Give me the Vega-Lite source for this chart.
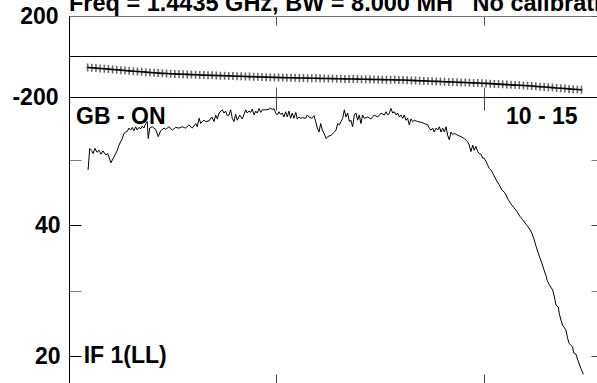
{
  "$schema": "https://vega.github.io/schema/vega-lite/v6.json",
  "autosize": {"type": "pad"},
  "padding": {"left": 11, "top": -9, "right": 0, "bottom": 0},
  "background": "white",
  "title": {
    "text": "Freq = 1.4435 GHz, BW = 8.000 MH\u00a0\u00a0\u00a0No calibration",
    "anchor": "start",
    "frame": "group",
    "font": "Liberation Sans",
    "fontSize": 23.5,
    "fontWeight": "bold",
    "color": "black",
    "baseline": "alphabetic",
    "offset": -29
  },
  "config": {
    "view": {"stroke": null},
    "concat": {"spacing": 0},
    "axis": {
      "grid": false,
      "title": null,
      "labelFont": "Liberation Sans",
      "labelFontSize": 23,
      "labelFontWeight": "bold",
      "labelColor": "black",
      "domainColor": "black",
      "domainWidth": 1,
      "tickWidth": 1,
      "labelOverlap": false,
      "labelFlush": false
    }
  },
  "datasets": {
    "zeroline": [{"ph": 0}],
    "phase": [
      {"ch":9,"ph":-54.0},{"ch":11,"ph":-55.6},{"ch":13,"ph":-57.3},{"ch":15,"ph":-58.9},
      {"ch":17,"ph":-60.6},{"ch":19,"ph":-62.3},{"ch":21,"ph":-64.0},{"ch":23,"ph":-65.7},{"ch":25,"ph":-67.4},{"ch":27,"ph":-69.1},{"ch":29,"ph":-70.8},
      {"ch":31,"ph":-72.5},{"ch":33,"ph":-74.1},{"ch":35,"ph":-75.6},{"ch":37,"ph":-77.2},{"ch":39,"ph":-78.8},{"ch":41,"ph":-80.4},{"ch":43,"ph":-82.0},
      {"ch":45,"ph":-83.3},{"ch":47,"ph":-84.2},{"ch":49,"ph":-85.0},{"ch":51,"ph":-85.9},{"ch":53,"ph":-86.8},{"ch":55,"ph":-87.6},{"ch":57,"ph":-88.5},{"ch":59,"ph":-89.3},{"ch":61,"ph":-90.2},{"ch":63,"ph":-91.0},
      {"ch":65,"ph":-91.8},{"ch":67,"ph":-92.5},{"ch":69,"ph":-93.1},{"ch":71,"ph":-93.8},{"ch":73,"ph":-94.5},{"ch":75,"ph":-95.2},{"ch":77,"ph":-95.9},{"ch":79,"ph":-96.5},{"ch":81,"ph":-97.2},{"ch":83,"ph":-97.9},{"ch":85,"ph":-98.6},{"ch":87,"ph":-99.3},{"ch":89,"ph":-99.9},{"ch":91,"ph":-100.6},{"ch":93,"ph":-101.3},{"ch":95,"ph":-102.0},{"ch":97,"ph":-102.7},{"ch":99,"ph":-103.3},
      {"ch":101,"ph":-103.8},{"ch":103,"ph":-104.3},{"ch":105,"ph":-104.7},{"ch":107,"ph":-105.1},{"ch":109,"ph":-105.5},{"ch":111,"ph":-105.9},{"ch":113,"ph":-106.3},{"ch":115,"ph":-106.8},{"ch":117,"ph":-107.2},{"ch":119,"ph":-107.6},{"ch":121,"ph":-108.0},{"ch":123,"ph":-108.4},{"ch":125,"ph":-108.8},{"ch":127,"ph":-109.2},{"ch":129,"ph":-109.7},{"ch":131,"ph":-110.1},{"ch":133,"ph":-110.5},{"ch":135,"ph":-110.9},
      {"ch":137,"ph":-111.3},{"ch":139,"ph":-111.7},{"ch":141,"ph":-112.1},{"ch":143,"ph":-112.5},{"ch":145,"ph":-112.9},{"ch":147,"ph":-113.4},{"ch":149,"ph":-113.8},{"ch":151,"ph":-114.2},{"ch":153,"ph":-114.6},{"ch":155,"ph":-115.0},{"ch":157,"ph":-115.4},{"ch":159,"ph":-115.8},
      {"ch":161,"ph":-116.4},{"ch":163,"ph":-117.2},{"ch":165,"ph":-118.0},{"ch":167,"ph":-118.9},{"ch":169,"ph":-119.7},{"ch":171,"ph":-120.5},{"ch":173,"ph":-121.3},{"ch":175,"ph":-122.1},{"ch":177,"ph":-123.0},{"ch":179,"ph":-123.8},{"ch":181,"ph":-124.6},{"ch":183,"ph":-125.4},{"ch":185,"ph":-126.2},{"ch":187,"ph":-127.0},{"ch":189,"ph":-127.8},{"ch":191,"ph":-128.6},{"ch":193,"ph":-129.4},{"ch":195,"ph":-130.3},{"ch":197,"ph":-131.1},{"ch":199,"ph":-131.9},
      {"ch":201,"ph":-132.9},{"ch":203,"ph":-134.1},{"ch":205,"ph":-135.3},{"ch":207,"ph":-136.4},{"ch":209,"ph":-137.6},{"ch":211,"ph":-138.8},{"ch":213,"ph":-140.0},{"ch":215,"ph":-141.2},{"ch":217,"ph":-142.3},{"ch":219,"ph":-143.5},{"ch":221,"ph":-144.7},
      {"ch":223,"ph":-145.9},{"ch":225,"ph":-147.5},{"ch":227,"ph":-149.0},{"ch":229,"ph":-150.6},{"ch":231,"ph":-152.1},{"ch":233,"ph":-153.7},{"ch":235,"ph":-155.2},{"ch":237,"ph":-156.8},{"ch":239,"ph":-158.3},{"ch":241,"ph":-159.9},{"ch":243,"ph":-161.4},{"ch":245,"ph":-163.0},{"ch":247,"ph":-164.5}
    ],
    "spectrum": [
      {"ch":9.2,"amp":48.5},{"ch":10.0,"amp":51.8},{"ch":10.9,"amp":51.5},{"ch":11.6,"amp":51.0},{"ch":12.5,"amp":51.8},{"ch":13.5,"amp":51.2},{"ch":14.5,"amp":51.5},{"ch":15.4,"amp":50.9},{"ch":16.4,"amp":51.4},{"ch":17.7,"amp":50.8},
      {"ch":18.7,"amp":51.0},{"ch":20.2,"amp":49.6},{"ch":21.7,"amp":50.5},{"ch":23.3,"amp":51.5},{"ch":24.1,"amp":52.3},{"ch":24.9,"amp":52.8},{"ch":25.7,"amp":53.3},{"ch":26.5,"amp":54.1},{"ch":27.3,"amp":54.3},{"ch":28.1,"amp":54.4},
      {"ch":28.9,"amp":54.9},{"ch":29.7,"amp":54.6},{"ch":30.5,"amp":55.0},{"ch":31.3,"amp":54.5},{"ch":32.1,"amp":55.1},{"ch":32.9,"amp":54.6},{"ch":33.7,"amp":55.0},{"ch":34.6,"amp":54.8},{"ch":35.3,"amp":55.2},{"ch":36.1,"amp":54.9},
      {"ch":37.0,"amp":55.6},{"ch":37.7,"amp":55.9},{"ch":38.2,"amp":53.3},{"ch":38.9,"amp":54.9},{"ch":40.1,"amp":55.1},{"ch":41.8,"amp":54.7},{"ch":43.0,"amp":53.6},{"ch":44.2,"amp":54.5},{"ch":45.8,"amp":54.9},{"ch":46.6,"amp":54.7},
      {"ch":48.2,"amp":55.1},{"ch":49.8,"amp":54.6},{"ch":51.4,"amp":55.0},{"ch":53.0,"amp":54.9},{"ch":54.6,"amp":55.1},{"ch":56.2,"amp":54.9},{"ch":57.8,"amp":55.4},{"ch":59.4,"amp":54.9},{"ch":61.1,"amp":55.6},{"ch":61.8,"amp":55.1},
      {"ch":62.7,"amp":56.4},{"ch":63.5,"amp":55.6},{"ch":64.2,"amp":55.9},{"ch":65.1,"amp":56.1},{"ch":65.9,"amp":55.9},{"ch":67.5,"amp":56.0},{"ch":68.8,"amp":56.6},{"ch":69.9,"amp":55.9},{"ch":70.7,"amp":56.9},{"ch":71.5,"amp":56.3},
      {"ch":72.3,"amp":57.2},{"ch":73.9,"amp":57.7},{"ch":74.7,"amp":57.2},{"ch":75.5,"amp":57.5},{"ch":76.3,"amp":56.8},{"ch":77.1,"amp":56.9},{"ch":77.9,"amp":57.7},{"ch":78.7,"amp":56.4},{"ch":79.5,"amp":55.9},{"ch":80.3,"amp":57.0},
      {"ch":81.1,"amp":56.1},{"ch":82.3,"amp":56.9},{"ch":83.5,"amp":56.3},{"ch":85.2,"amp":57.7},{"ch":85.9,"amp":57.2},{"ch":86.7,"amp":57.5},{"ch":87.6,"amp":57.3},{"ch":88.3,"amp":57.8},{"ch":89.2,"amp":56.9},{"ch":90.0,"amp":57.5},
      {"ch":90.7,"amp":57.2},{"ch":91.6,"amp":57.9},{"ch":92.4,"amp":57.3},{"ch":93.2,"amp":57.7},{"ch":94.8,"amp":57.7},{"ch":96.4,"amp":57.8},{"ch":97.2,"amp":58.0},{"ch":98.0,"amp":57.7},{"ch":98.8,"amp":57.9},{"ch":99.6,"amp":57.2},
      {"ch":100.4,"amp":56.9},{"ch":101.2,"amp":57.4},{"ch":102.0,"amp":57.0},{"ch":102.8,"amp":57.2},{"ch":103.6,"amp":56.6},{"ch":104.4,"amp":57.4},{"ch":105.2,"amp":56.6},{"ch":106.0,"amp":57.5},{"ch":106.8,"amp":56.4},{"ch":107.6,"amp":57.2},
      {"ch":108.4,"amp":56.4},{"ch":109.3,"amp":57.3},{"ch":110.0,"amp":56.3},{"ch":110.8,"amp":56.6},{"ch":111.7,"amp":56.4},{"ch":112.4,"amp":56.5},{"ch":114.1,"amp":56.4},{"ch":114.8,"amp":56.9},{"ch":115.7,"amp":56.6},{"ch":117.0,"amp":56.4},
      {"ch":118.1,"amp":56.8},{"ch":118.9,"amp":55.9},{"ch":119.7,"amp":54.9},{"ch":120.5,"amp":54.3},{"ch":121.3,"amp":55.6},{"ch":122.1,"amp":54.6},{"ch":122.9,"amp":54.1},{"ch":123.9,"amp":53.3},{"ch":124.7,"amp":53.6},{"ch":126.3,"amp":53.8},
      {"ch":127.9,"amp":54.3},{"ch":128.7,"amp":54.6},{"ch":129.5,"amp":55.6},{"ch":130.3,"amp":55.4},{"ch":131.1,"amp":55.9},{"ch":131.9,"amp":56.4},{"ch":132.7,"amp":57.7},{"ch":133.5,"amp":56.6},{"ch":134.3,"amp":57.2},{"ch":135.1,"amp":55.9},
      {"ch":135.9,"amp":56.1},{"ch":136.7,"amp":55.1},{"ch":137.5,"amp":56.9},{"ch":138.3,"amp":57.2},{"ch":139.1,"amp":56.1},{"ch":139.9,"amp":56.9},{"ch":140.7,"amp":55.6},{"ch":141.5,"amp":56.9},{"ch":142.3,"amp":56.4},{"ch":144.0,"amp":56.6},
      {"ch":145.5,"amp":56.3},{"ch":147.1,"amp":56.9},{"ch":148.8,"amp":56.6},{"ch":150.4,"amp":57.2},{"ch":152.0,"amp":56.9},{"ch":152.8,"amp":57.4},{"ch":153.6,"amp":56.9},{"ch":154.4,"amp":57.2},{"ch":155.2,"amp":57.9},{"ch":156.0,"amp":57.2},
      {"ch":156.8,"amp":57.4},{"ch":157.6,"amp":56.9},{"ch":158.4,"amp":57.2},{"ch":159.2,"amp":56.6},{"ch":160.0,"amp":56.9},{"ch":160.8,"amp":56.4},{"ch":161.6,"amp":56.9},{"ch":162.4,"amp":56.1},{"ch":163.2,"amp":56.4},{"ch":164.0,"amp":55.4},
      {"ch":164.8,"amp":56.3},{"ch":165.6,"amp":55.9},{"ch":166.4,"amp":56.1},{"ch":168.0,"amp":55.9},{"ch":169.6,"amp":55.8},{"ch":171.2,"amp":55.6},{"ch":172.9,"amp":55.4},{"ch":173.6,"amp":54.9},{"ch":174.5,"amp":54.6},{"ch":175.3,"amp":54.9},
      {"ch":176.0,"amp":54.3},{"ch":176.9,"amp":54.9},{"ch":177.7,"amp":54.6},{"ch":178.5,"amp":55.1},{"ch":179.3,"amp":54.3},{"ch":180.1,"amp":54.9},{"ch":180.9,"amp":54.3},{"ch":181.7,"amp":55.1},{"ch":182.5,"amp":53.8},{"ch":183.3,"amp":53.1},
      {"ch":184.1,"amp":54.3},{"ch":184.9,"amp":53.9},{"ch":185.7,"amp":54.1},{"ch":187.3,"amp":53.8},{"ch":188.9,"amp":53.6},{"ch":190.5,"amp":53.3},{"ch":192.1,"amp":52.8},{"ch":192.9,"amp":52.3},{"ch":193.7,"amp":51.3},{"ch":194.6,"amp":52.3},
      {"ch":195.3,"amp":51.5},{"ch":196.1,"amp":52.1},{"ch":197.0,"amp":51.3},{"ch":197.7,"amp":51.0},{"ch":198.6,"amp":50.9},{"ch":199.4,"amp":50.3},{"ch":200.1,"amp":50.3},{"ch":201.0,"amp":49.8},{"ch":201.8,"amp":49.2},{"ch":202.6,"amp":48.7},
      {"ch":203.4,"amp":48.5},{"ch":204.2,"amp":48.0},{"ch":205.8,"amp":47.0},{"ch":207.2,"amp":46.3},{"ch":208.7,"amp":45.4},{"ch":210.1,"amp":45.0},{"ch":211.6,"amp":44.0},{"ch":213.0,"amp":43.3},{"ch":214.5,"amp":42.7},{"ch":215.9,"amp":42.1},
      {"ch":217.3,"amp":41.4},{"ch":218.8,"amp":40.8},{"ch":220.2,"amp":40.2},{"ch":221.7,"amp":39.6},{"ch":223.1,"amp":38.8},{"ch":224.1,"amp":37.9},{"ch":225.1,"amp":36.8},{"ch":226.0,"amp":35.9},{"ch":227.0,"amp":35.0},{"ch":228.0,"amp":34.1},
      {"ch":228.9,"amp":33.2},{"ch":229.9,"amp":32.3},{"ch":230.4,"amp":31.6},{"ch":231.5,"amp":30.9},{"ch":233.1,"amp":30.1},{"ch":233.9,"amp":29.1},{"ch":234.7,"amp":27.8},{"ch":235.8,"amp":27.5},{"ch":236.3,"amp":26.5},{"ch":237.1,"amp":25.5},
      {"ch":237.9,"amp":24.7},{"ch":239.5,"amp":24.0},{"ch":240.3,"amp":22.7},{"ch":241.1,"amp":21.9},{"ch":242.7,"amp":21.4},{"ch":243.2,"amp":20.5},{"ch":244.3,"amp":20.3},{"ch":245.2,"amp":19.4},{"ch":246.7,"amp":18.1},{"ch":247.9,"amp":17.2}
    ],
    "notes": [
      {"ch":3.4,"amp":55.5,"label":"GB - ON"},
      {"ch":210.6,"amp":55.5,"label":"10 - 15"},
      {"ch":7.1,"amp":18.9,"label":"IF 1(LL)"}
    ]
  },
  "bounds": "flush",
  "spacing": 0,
  "vconcat": [
    {
      "width": 532,
      "height": 81,
      "layer": [
        {
          "data": {"name": "zeroline"},
          "mark": {"type": "rule", "color": "black", "strokeWidth": 1},
          "encoding": {
            "y": {"field": "ph", "type": "quantitative", "scale": {"domain": [-200, 200], "nice": false}, "axis": null}
          }
        },
        {
          "data": {"name": "phase"},
          "mark": {"type": "point", "shape": "M0,-1V1M-0.35,0H0.35", "filled": false, "stroke": "#6a6a6a", "strokeWidth": 1.6, "size": 64, "opacity": 1},
          "encoding": {
            "x": {"field": "ch", "type": "quantitative", "scale": {"domain": [0, 256.4], "nice": false, "zero": false},
                  "axis": {"orient": "bottom", "values": [0, 100, 200], "tickSize": -10, "labels": false, "tickColor": "#555", "domainColor": "black"}},
            "y": {"field": "ph", "type": "quantitative", "scale": {"domain": [-200, 200], "nice": false},
                  "axis": {"orient": "right", "values": [-200, 200], "tickSize": -10, "labels": false, "tickColor": "#555", "domain": false}}
          }
        },
        {
          "data": {"name": "phase"},
          "mark": {"type": "line", "color": "black", "strokeWidth": 1.6},
          "encoding": {
            "x": {"field": "ch", "type": "quantitative", "scale": {"domain": [0, 256.4], "nice": false, "zero": false},
                  "axis": {"orient": "top", "values": [0, 100, 200], "tickSize": -9, "labels": false, "tickColor": "#555", "domainColor": "#777"}},
            "y": {"field": "ph", "type": "quantitative", "scale": {"domain": [-200, 200], "nice": false},
                  "axis": {"orient": "left", "values": [-200, 200], "tickSize": -10, "labelPadding": 21,
                           "labelExpr": "datum.value > 0 ? '200' : '-200'",
                           "tickColor": "#777", "domainColor": "black"}}
          }
        }
      ],
      "resolve": {"axis": {"x": "independent", "y": "independent"}}
    },
    {
      "width": 532,
      "height": 288,
      "layer": [
        {
          "data": {"name": "spectrum"},
          "mark": {"type": "line", "color": "black", "strokeWidth": 1},
          "encoding": {
            "x": {"field": "ch", "type": "quantitative", "scale": {"domain": [0, 256.4], "nice": false, "zero": false},
                  "axis": {"orient": "top", "values": [0, 100, 200], "tickSize": -13, "labels": false, "tickColor": "#444", "domainColor": "black"}},
            "y": {"field": "amp", "type": "quantitative", "scale": {"domain": [15.56, 59.66], "nice": false, "zero": false},
                  "axis": {"orient": "left", "values": [20, 30, 40, 50], "tickSize": -12, "labelPadding": 21,
                           "labelExpr": "datum.value % 20 === 0 ? datum.label : ''",
                           "tickColor": {"condition": {"test": "datum.value % 20 === 0", "value": "black"}, "value": "#808080"},
                           "domainColor": "black"}}
          }
        },
        {
          "data": {"name": "notes"},
          "mark": {"type": "text", "align": "left", "baseline": "alphabetic", "font": "Liberation Sans", "fontSize": 23, "fontWeight": "bold", "color": "black"},
          "encoding": {
            "x": {"field": "ch", "type": "quantitative", "scale": {"domain": [0, 256.4], "nice": false, "zero": false},
                  "axis": {"orient": "bottom", "values": [0, 100, 200], "tickSize": -11, "labels": false, "tickColor": "#444", "domainColor": "black"}},
            "y": {"field": "amp", "type": "quantitative", "scale": {"domain": [15.56, 59.66], "nice": false, "zero": false},
                  "axis": {"orient": "right", "values": [20, 30, 40, 50], "tickSize": -10, "labels": false,
                           "tickColor": {"condition": {"test": "datum.value % 20 === 0", "value": "#444"}, "value": "#808080"},
                           "domain": false}},
            "text": {"field": "label", "type": "nominal"}
          }
        }
      ],
      "resolve": {"axis": {"x": "independent", "y": "independent"}}
    }
  ]
}
